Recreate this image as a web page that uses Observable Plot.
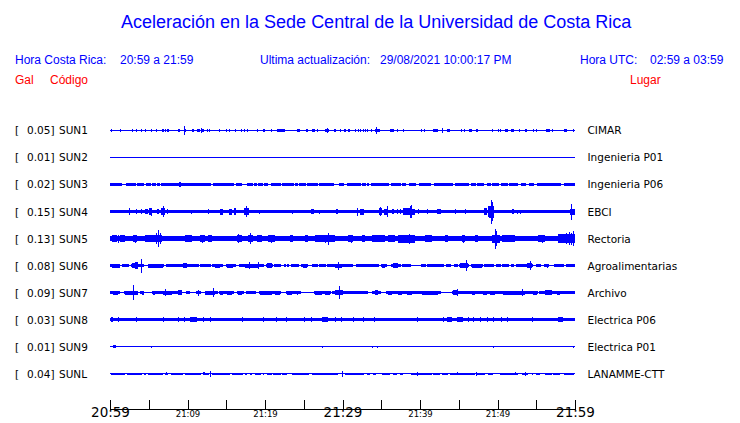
<!DOCTYPE html>
<html><head><meta charset="utf-8">
<script src="https://cdn.jsdelivr.net/npm/d3@7"></script>
<script src="https://cdn.jsdelivr.net/npm/@observablehq/plot@0.6"></script>
<style>
html,body{margin:0;padding:0;background:#fff;}
#wrap{width:740px;}
#head{position:relative;width:740px;height:100px;font-family:"Liberation Sans",Arial,sans-serif;}
#head span{position:absolute;white-space:pre;line-height:1;}
.b{color:#0000ff;font-size:12px;}
.r{color:#ff0000;font-size:12px;}
.t{color:#0000ff;font-size:18px;}
</style></head><body>
<div id="wrap">
<div id="head">
<span class="t" style="left:121px;top:13px">Aceleración en la Sede Central de la Universidad de Costa Rica</span>
<span class="b" style="left:15px;top:54px">Hora Costa Rica:</span>
<span class="b" style="left:120px;top:54px">20:59 a 21:59</span>
<span class="b" style="left:260px;top:54px">Ultima actualización:</span>
<span class="b" style="left:380px;top:54px">29/08/2021 10:00:17 PM</span>
<span class="b" style="left:580px;top:54px">Hora UTC:</span>
<span class="b" style="left:650px;top:54px">02:59 a 03:59</span>
<span class="r" style="left:15px;top:74px">Gal</span>
<span class="r" style="left:50px;top:74px">Código</span>
<span class="r" style="left:630px;top:74px">Lugar</span>
</div>
<div id="chart"></div>
</div>
<script>
// ---- stations ----
const codes = ["SUN1","SUN2","SUN3","SUN4","SUN5","SUN6","SUN7","SUN8","SUN9","SUNL"];
const gal = [0.05,0.01,0.02,0.15,0.13,0.08,0.09,0.03,0.01,0.04];
const places = ["CIMAR","Ingenieria P01","Ingenieria P06","EBCI","Rectoria","Agroalimentarias","Archivo","Electrica P06","Electrica P01","LANAMME-CTT"];
// half-width of the continuous band (relative amplitude, 1 = half the row spacing), 0 = thin trace only
const bandAmp = [0,0,0.1,0.13,0.19,0.1,0.1,0.12,0,0.08];
const traceAmp = 0.037;

// ---- time axis (minutes after 20:59) ----
const tickMinutes = [0,5,10,15,20,25,30,35,40,45,50,55,60];
const labelMinutes = [0,10,20,30,40,50,60];
const tickLabels = ["20:59","21:09","21:19","21:29","21:39","21:49","21:59"];

// ---- band segments [start, end] in minutes ----
const segFull = [[0,60]];
const segSUN3 = [[0,1.59],[2.11,3.35],[3.53,4.43],[4.6,5.29],[5.46,5.94],[6.11,6.45],[6.62,13.03],[13.33,16.04],[16.22,17.03],[17.72,18.41],[18.58,18.97],[19.14,19.7],[19.87,20.34],[20.73,22.06],[22.24,23.7],[23.87,24.22],[24.39,25.29],[25.46,26.8],[26.97,28.95],[29.55,30.24],[30.62,32.39],[32.56,33.03],[33.2,33.46],[33.63,36.04],[36.22,37.55],[37.72,38.19],[38.58,39.48],[39.87,41.42],[41.81,44.22],[44.52,46.37],[46.54,47.23],[47.4,48.3],[48.69,49.16],[49.33,50.24],[50.41,51.31],[51.48,52.6],[52.99,53.68],[54.06,54.75],[55.14,58.19],[58.58,60]];
const segSUN6 = [[0,1.33],[1.51,2.49],[2.67,4.34],[4.9,6.92],[7.27,11.44],[11.61,13.03],[13.2,14.54],[14.92,16.26],[16.65,19.91],[20.09,20.99],[21.16,22.06],[22.45,22.71],[22.88,23.14],[23.31,24.43],[24.6,25.51],[26.11,26.8],[26.97,27.87],[28.04,31.31],[31.7,34.75],[34.92,35.74],[36.22,37.55],[37.72,38.84],[40.09,40.77],[40.95,43.14],[43.31,44.0],[44.39,44.86],[45.03,46.37],[46.54,48.09],[48.26,49.59],[49.76,50.45],[50.62,51.53],[51.7,52.17],[52.34,54.54],[54.92,55.61],[56.0,56.69],[57.29,58.62],[58.8,60]];
const segSUN7 = [[0,1.33],[1.76,3.61],[3.91,4.43],[5.46,9.25],[9.76,10.28],[11.05,11.74],[12.26,13.89],[14.06,16.04],[16.43,17.33],[17.51,18.84],[19.23,22.06],[22.67,24.65],[26.32,28.52],[28.69,33.33],[33.85,34.97],[35.57,42.71],[44.17,55.18],[55.35,60]];
const segSUNL = [[0.09,1.94],[2.15,4.09],[4.43,4.6],[4.95,6.88],[7.1,7.53],[7.87,9.46],[9.68,11.74],[11.96,12.77],[13.2,15.48],[15.7,17.2],[17.42,17.63],[18.06,18.28],[18.71,19.48],[19.7,19.91],[20.22,20.86],[21.08,22.06],[22.24,22.8],[23.53,25.68],[26.11,29.46],[30.32,32.82],[33.12,33.55],[33.98,34.28],[34.54,34.62],[35.05,36.13],[36.56,36.99],[37.42,37.85],[38.84,41.51],[41.72,42.58],[42.8,43.66],[43.87,47.1],[47.31,48.39],[48.73,49.46],[50.32,52.69],[53.12,53.98],[54.41,54.62],[54.92,55.48],[56.13,56.99],[57.2,58.06],[58.62,59.91]];

// ---- bursts [start, end, amplitude] ----
const burstSUN1 = [[1.29,1.42,0.1],[5.25,5.38,0.1],[8.73,8.99,0.1],[9.5,9.76,0.13],[10.62,10.88,0.1],[11.18,11.57,0.12],[11.83,12.17,0.12],[18.92,19.14,0.1],[19.78,20.0,0.1],[21.55,22.58,0.12],[24.17,24.52,0.1],[25.25,25.5,0.1],[26.1,26.45,0.1],[27.74,28.26,0.13],[28.95,29.12,0.1],[30.24,30.41,0.1],[30.75,31.0,0.1],[34.19,34.88,0.13],[36.13,36.69,0.1],[41.72,42.37,0.1],[43.53,43.91,0.1],[46.32,46.67,0.12],[47.23,47.53,0.1],[50.97,51.4,0.1],[51.74,52.09,0.1],[53.55,53.81,0.1],[56.22,56.77,0.12],[56.99,57.2,0.1],[58.54,58.92,0.1]];
const burstSUN3 = [[8.9,9.07,0.17]];
const burstSUN4 = [[4.52,4.86,0.2],[5.08,5.38,0.24],[6.1,6.32,0.2],[6.58,7.1,0.25],[7.31,7.53,0.18],[14.19,14.62,0.22],[15.35,15.78,0.22],[16.04,16.22,0.25],[17.33,17.94,0.25],[25.94,26.28,0.2],[29.12,29.38,0.18],[31.91,32.04,0.3],[32.26,32.73,0.22],[34.71,35.05,0.25],[35.4,35.91,0.22],[36.34,36.69,0.18],[37.76,38.71,0.25],[38.71,38.92,0.45],[38.92,39.35,0.22],[42.19,42.71,0.2],[48.3,48.6,0.25],[48.73,48.9,0.4],[48.9,49.5,0.45],[51.91,52.09,0.18],[59.35,60,0.22]];
const burstSUN5 = [[0.22,0.86,0.27],[1.29,1.94,0.25],[3.01,3.44,0.25],[4.52,6.67,0.28],[9.68,10.54,0.25],[11.61,12.26,0.26],[12.69,13.12,0.25],[16.34,16.99,0.27],[17.85,18.49,0.27],[18.92,19.57,0.25],[20.43,21.29,0.26],[23.23,23.66,0.25],[25.16,25.59,0.25],[26.45,29.03,0.27],[30.75,31.4,0.26],[32.47,32.9,0.25],[33.76,35.48,0.27],[35.91,36.77,0.26],[37.2,39.35,0.3],[40.65,41.51,0.25],[43.23,43.66,0.25],[45.38,45.81,0.25],[47.1,47.53,0.25],[49.25,50.32,0.3],[50.54,52.26,0.26],[55.27,56.13,0.25],[57.85,60,0.32]];
const burstSUN6 = [[0.22,1.29,0.14],[2.8,3.23,0.2],[3.23,3.66,0.28],[4.95,6.88,0.14],[9.46,9.89,0.18],[13.55,14.19,0.16],[15.05,15.91,0.14],[17.42,19.14,0.16],[20.22,20.86,0.18],[24.95,25.38,0.16],[29.03,29.89,0.16],[31.83,34.41,0.13],[35.05,35.48,0.14],[36.56,37.2,0.2],[45.16,46.24,0.18],[46.67,47.96,0.14],[48.39,49.46,0.13],[53.76,54.41,0.18],[56.34,56.56,0.15]];
const burstSUN7 = [[0.43,1.08,0.16],[1.94,3.66,0.16],[4.09,4.43,0.16],[5.59,5.81,0.16],[6.88,7.96,0.16],[8.73,9.33,0.2],[12.26,13.55,0.15],[14.19,14.62,0.15],[15.05,15.7,0.15],[16.56,17.08,0.15],[19.35,20.86,0.16],[21.29,21.94,0.16],[22.8,23.44,0.16],[24.09,24.3,0.15],[26.45,27.31,0.16],[27.74,28.39,0.15],[29.03,30.11,0.18],[34.19,34.62,0.17],[35.91,36.34,0.15],[37.2,37.63,0.15],[38.28,38.92,0.15],[40.22,42.37,0.16],[44.3,44.95,0.17],[46.67,47.1,0.15],[48.17,48.6,0.15],[49.03,49.68,0.15],[50.75,53.55,0.15],[54.62,55.05,0.15],[56.13,56.99,0.18],[57.63,58.06,0.15]];
const burstSUN8 = [[0.13,0.43,0.18],[10.32,11.18,0.17],[27.4,28.17,0.18],[43.44,44.09,0.17],[44.82,45.59,0.18],[57.85,58.49,0.17]];
const burstSUN9 = [[0.43,0.65,0.1]];
const burstSUNL = [[12.04,12.26,0.12]];

// ---- single spikes [time, amplitude] ----
const spikeSUN1 = [[0.13,0.1],[2.8,0.1],[3.35,0.1],[3.96,0.1],[4.56,0.1],[5.89,0.1],[6.67,0.1],[6.88,0.1],[7.1,0.1],[7.31,0.1],[7.53,0.08],[9.6,0.32],[11.7,0.22],[12.47,0.1],[12.73,0.1],[14.1,0.08],[14.92,0.1],[15.4,0.1],[16.09,0.1],[16.95,0.1],[17.25,0.1],[17.63,0.1],[20.73,0.1],[26.75,0.1],[28.04,0.18],[29.63,0.1],[31.6,0.1],[31.96,0.08],[32.26,0.1],[32.69,0.1],[32.95,0.1],[33.2,0.1],[33.63,0.1],[34.37,0.25],[37.03,0.1],[37.85,0.08],[40.13,0.1],[40.52,0.1],[42.8,0.22],[45.29,0.1],[45.72,0.1],[49.25,0.08],[50.02,0.1],[50.32,0.1],[52.77,0.1],[54.62,0.1],[54.97,0.1],[59.78,0.12]];
const spikeSUN3 = [[9.0,0.17]];
const spikeSUN4 = [[2.49,0.24],[3.31,0.16],[3.96,0.16],[5.25,0.3],[6.88,0.42],[10.41,0.14],[12.6,0.16],[17.55,0.4],[19.23,0.15],[23.53,0.15],[27.01,0.14],[34.88,0.35],[35.7,0.4],[37.08,0.2],[37.42,0.2],[38.8,0.49],[39.78,0.2],[40.86,0.16],[44.52,0.16],[45.81,0.16],[49.1,0.89],[49.2,0.85],[49.3,0.7],[52.47,0.15],[52.9,0.15],[59.48,0.59]];
const spikeSUN5 = [[1.0,0.3],[3.2,0.3],[5.9,0.4],[6.24,0.65],[6.5,0.4],[11.9,0.3],[16.56,0.35],[18.1,0.42],[20.8,0.3],[27.8,0.3],[28.17,0.45],[31.1,0.3],[38.3,0.3],[38.58,0.38],[45.6,0.3],[49.68,0.74],[49.85,0.55],[55.7,0.3],[58.9,0.4],[59.27,0.5],[59.5,0.45],[59.7,0.55]];
const spikeSUN6 = [[3.96,0.52],[17.94,0.25],[19.05,0.25],[29.38,0.3],[45.94,0.42],[54.19,0.35]];
const spikeSUN7 = [[3.01,0.54],[7.1,0.25],[11.4,0.22],[13.33,0.32],[29.59,0.47],[44.73,0.25],[53.12,0.25]];
const spikeSUN8 = [[1.08,0.17],[3.35,0.17],[6.88,0.17],[8.82,0.17],[9.59,0.17],[12.04,0.17],[12.9,0.17],[17.08,0.17],[19.78,0.17],[21.38,0.17],[22.67,0.17],[25.08,0.17],[25.89,0.17],[29.03,0.17],[29.76,0.17],[31.4,0.17],[32.69,0.17],[34.11,0.17],[39.66,0.17],[42.92,0.17],[46.24,0.17],[46.88,0.17],[47.74,0.17],[48.6,0.17],[49.46,0.17],[50.41,0.17],[51.27,0.17],[54.41,0.17]];
const spikeSUN9 = [[0.5,0.1],[0.6,0.1],[5.33,0.08],[27.4,0.08],[33.85,0.07],[34.49,0.07],[49.46,0.08],[59.78,0.08]];
const spikeSUNL = [[7.2,0.12],[12.95,0.2],[25.0,0.1],[29.89,0.24],[39.66,0.15],[44.8,0.12],[47.23,0.15],[52.2,0.12],[53.55,0.17]];

const segmentsBy = [[],[],segSUN3,segFull,segFull,segSUN6,segSUN7,segFull,[],segSUNL];
const burstsBy = [burstSUN1,[],burstSUN3,burstSUN4,burstSUN5,burstSUN6,burstSUN7,burstSUN8,burstSUN9,burstSUNL];
const spikesBy = [spikeSUN1,[],spikeSUN3,spikeSUN4,spikeSUN5,spikeSUN6,spikeSUN7,spikeSUN8,spikeSUN9,spikeSUNL];

const t0 = new Date(Date.UTC(2021,7,29,20,59));
const at = m => new Date(+t0 + m * 60000);

// each station is drawn on its own baseline (row k sits at -k on the y scale, 1 unit = row spacing)
const rects = [];
const spikes = [];
codes.forEach((code, k) => {
  rects.push({k, t1: 0, t2: 60, a: traceAmp});
  segmentsBy[k].forEach(([t1, t2]) => rects.push({k, t1, t2, a: bandAmp[k]}));
  burstsBy[k].forEach(([t1, t2, a]) => rects.push({k, t1, t2, a}));
  spikesBy[k].forEach(([t, a]) => spikes.push({k, t, a}));
});
const rowY = codes.map((c, k) => -k);

const blue = "#0000ff";
const fmt = d3.format(".2f");

const chart = Plot.plot({
  width: 740,
  height: 323,
  marginLeft: 110,
  marginRight: 165,
  marginTop: 17,
  marginBottom: 14,
  x: {type: "utc", domain: [at(0), at(60)], axis: null},
  y: {domain: [-10.3, 0.5], axis: null},
  style: {fontFamily: "'DejaVu Sans', sans-serif", fontSize: "10.5px", color: "black", background: "white", overflow: "visible"},
  marks: [
    Plot.rect(rects, {x1: d => at(d.t1), x2: d => at(d.t2), y1: d => -d.k - d.a / 2, y2: d => -d.k + d.a / 2, fill: blue, shapeRendering: "crispEdges"}),
    Plot.ruleX(spikes, {x: d => at(d.t), y1: d => -d.k - d.a / 2, y2: d => -d.k + d.a / 2, stroke: blue, strokeWidth: 1, shapeRendering: "crispEdges"}),
    Plot.text(codes, {y: rowY, text: codes.map(() => "["), frameAnchor: "left", dx: -95.5, textAnchor: "start"}),
    Plot.text(codes, {y: rowY, text: gal.map(v => fmt(v) + "]"), frameAnchor: "left", dx: -56, textAnchor: "end"}),
    Plot.text(codes, {y: rowY, text: codes, frameAnchor: "left", dx: -51.5, textAnchor: "start"}),
    Plot.text(codes, {y: rowY, text: places, frameAnchor: "right", dx: 12, textAnchor: "start"}),
    Plot.ruleX(tickMinutes.map(at), {insetTop: 283, stroke: "black", shapeRendering: "crispEdges"}),
    Plot.frame({anchor: "bottom", stroke: "black", shapeRendering: "crispEdges"}),
    Plot.text(labelMinutes, {x: at, text: tickLabels, frameAnchor: "bottom", dy: 7,
      fontSize: m => (m % 30 === 0 ? 13.5 : 8.5)})
  ]
});
document.getElementById("chart").appendChild(chart);
</script>
</body></html>
